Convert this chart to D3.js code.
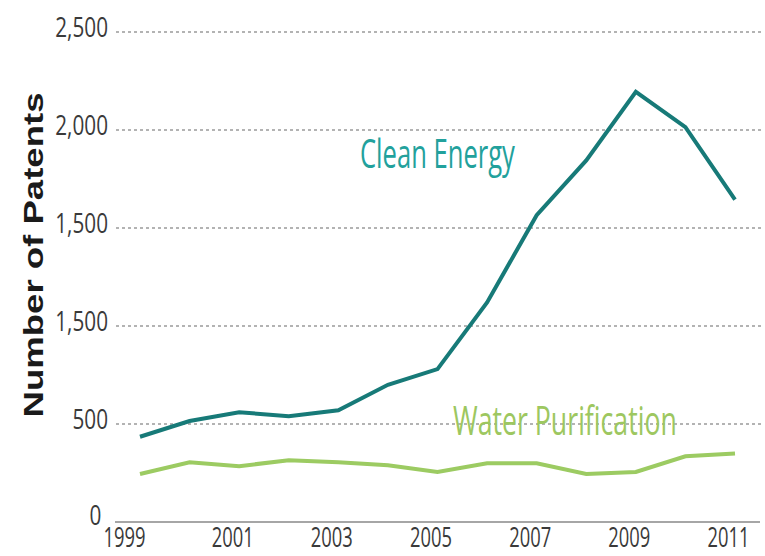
<html><head>
<title>Patents chart</title>
<script src="https://d3js.org/d3.v7.min.js"></script>
<style>
  body { margin: 0; background: #fff; }
</style>
</head>
<body>
  <div id="container" style="width: 765px; height: 556px;"></div>

<script>
  // DATA
  const years = [1999, 2000, 2001, 2002, 2003, 2004, 2005, 2006, 2007, 2008, 2009, 2010, 2011];
  const cleanEnergy = [435, 515, 560, 540, 570, 700, 780, 1120, 1565, 1845, 2195, 2015, 1645];
  const waterPurification = [245, 305, 285, 315, 305, 290, 255, 300, 300, 245, 255, 335, 350];
  const xTickYears = [1999, 2001, 2003, 2005, 2007, 2009, 2011];
  const yTickValues = [0, 500, 1000, 1500, 2000, 2500];
  const yTickLabels = ["0", "500", "1,500", "1,500", "2,000", "2,500"];  // as printed in the original

  const width = 765;
  const height = 556;

  const svg = d3.select("#container").append("svg")
                .attr("width", width)
                .attr("height", height);

  const xScale = d3.scaleLinear().domain([1999, 2011]).range([140, 735]);
  const yScale = d3.scaleLinear().domain([0, 2500]).range([522, 32]);

  const font = "'Open Sans', sans-serif";

  // squeeze a text horizontally to a wanted width, keeping its anchor point fixed
  function squeeze(sel, target) {
    sel.each(function() {
      const t = d3.select(this);
      const w = this.getComputedTextLength();
      const x = +t.attr("x") || 0;
      const y = +t.attr("y") || 0;
      const sx = target / w;
      t.attr("x", 0).attr("y", 0)
       .attr("transform", "translate(" + x + "," + y + ") scale(" + sx + ",1)");
    });
  }

  // dotted gridlines (skip the zero line, which is the solid baseline)
  svg.append("g").selectAll("line.grid")
     .data(yTickValues.filter(d => d > 0))
     .join("line").attr("class", "grid")
     .attr("x1", 116).attr("x2", 762)
     .attr("y1", d => yScale(d)).attr("y2", d => yScale(d))
     .attr("stroke", "#b3b3b3")
     .attr("stroke-width", 2)
     .attr("stroke-dasharray", "3,3");

  // baseline
  svg.append("line")
     .attr("x1", 115).attr("x2", 760)
     .attr("y1", yScale(0)).attr("y2", yScale(0))
     .attr("stroke", "#a6a6a6")
     .attr("stroke-width", 2);

  // y axis labels (the zero sits a bit further left, next to 1999)
  const yAxis = d3.axisLeft(yScale).tickValues(yTickValues)
                  .tickFormat((d, i) => yTickLabels[i]).tickSize(0);
  const yAxisArea = svg.append("g").attr("transform", "translate(108,0)").call(yAxis);
  yAxisArea.select(".domain").remove();
  yAxisArea.selectAll("text")
           .attr("x", d => d === 0 ? -9 : 0).attr("dy", d => d === 0 ? 2 : 4)
           .attr("text-anchor", "end")
           .attr("transform", "scale(0.74,1)")
           .style("font-family", font)
           .style("font-size", "28px")
           .attr("fill", "#3a3a3a");

  // x axis labels, kept just inside the bottom edge
  const xAxis = d3.axisBottom(xScale).tickValues(xTickYears)
                  .tickFormat(d3.format("d")).tickSize(0);
  const xAxisArea = svg.append("g").attr("transform", "translate(0," + yScale(0) + ")").call(xAxis);
  xAxisArea.select(".domain").remove();
  xAxisArea.selectAll("text")
           .attr("x", (d, i) => i === 0 ? -16 : -7)
           .attr("y", 25).attr("dy", 0)
           .attr("text-anchor", "middle")
           .style("font-family", font)
           .style("font-size", "28px")
           .attr("fill", "#3a3a3a")
           .call(squeeze, 42);

  // y axis title
  svg.append("text")
     .attr("transform", "translate(43,255) rotate(-90)")
     .attr("text-anchor", "middle")
     .attr("textLength", 325)
     .attr("lengthAdjust", "spacingAndGlyphs")
     .style("font-family", "'Liberation Sans', Arial, sans-serif")
     .style("font-weight", "bold")
     .style("font-size", "28px")
     .attr("fill", "#1a1a1a")
     .text("Number of Patents");

  // lines
  const line = series => d3.line()
      .x((d, i) => xScale(years[i]))
      .y(d => yScale(d))(series);

  svg.append("path")
     .attr("d", line(waterPurification))
     .attr("fill", "none")
     .attr("stroke", "#9ccb62")
     .attr("stroke-width", 4);

  svg.append("path")
     .attr("d", line(cleanEnergy))
     .attr("fill", "none")
     .attr("stroke", "#177a78")
     .attr("stroke-width", 4);

  // series labels
  svg.append("text")
     .attr("x", 360).attr("y", 168)
     .style("font-family", font)
     .style("font-size", "41px")
     .attr("fill", "#22a19c")
     .text("Clean Energy")
     .call(squeeze, 155);

  svg.append("text")
     .attr("x", 453).attr("y", 435)
     .style("font-family", font)
     .style("font-size", "41px")
     .attr("fill", "#9dc760")
     .text("Water Purification")
     .call(squeeze, 224);
</script>
</body>
</html>
